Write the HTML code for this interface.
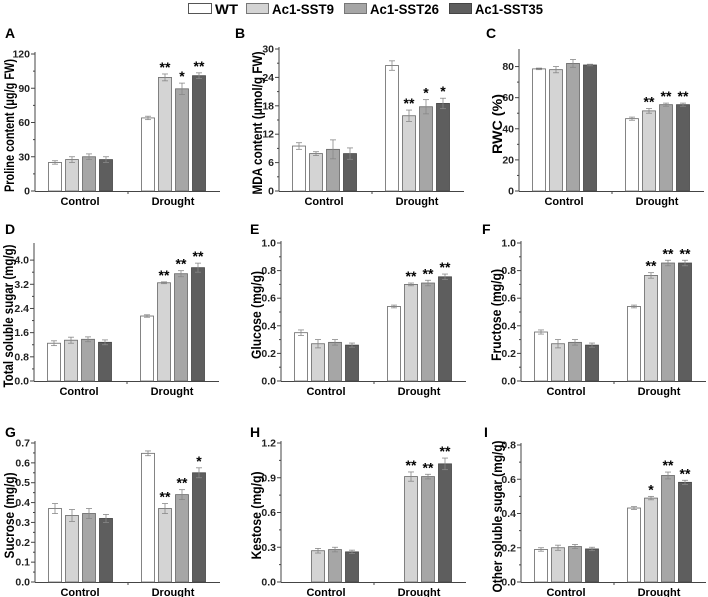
<!DOCTYPE html>
<html><head><meta charset="utf-8"><style>
body{margin:0;background:#fff}
svg{display:block;font-family:"Liberation Sans",Arial,sans-serif}
</style></head><body>
<svg id="fig" width="708" height="597" viewBox="0 0 708 597">
<g font-weight="bold" font-size="14">
<g><rect x="188.5" y="3.5" width="23" height="10" fill="#fff" stroke="#555"/><text x="215" y="14" textLength="23" lengthAdjust="spacingAndGlyphs">WT</text></g>
<g><rect x="246.5" y="3.5" width="22" height="10" fill="#d4d4d4" stroke="#777"/><text x="272" y="14" textLength="62" lengthAdjust="spacingAndGlyphs">Ac1-SST9</text></g>
<g><rect x="344.5" y="3.5" width="22" height="10" fill="#a6a6a6" stroke="#777"/><text x="370" y="14" textLength="69" lengthAdjust="spacingAndGlyphs">Ac1-SST26</text></g>
<g><rect x="449.5" y="3.5" width="22" height="10" fill="#5e5e5e" stroke="#444"/><text x="475" y="14" textLength="68" lengthAdjust="spacingAndGlyphs">Ac1-SST35</text></g>
</g>
</svg>
<script>
const categories = ["Control","Drought"];
const seriesNames = ["WT","Ac1-SST9","Ac1-SST26","Ac1-SST35"];
const seriesColors = ["#ffffff","#d4d4d4","#a6a6a6","#5e5e5e"];
const valuesA = [25,27.5,30,27.5, 64,99.5,89.5,101];
const errorsA = [1.5,2.5,2.5,2.5, 1.5,3,5,2.5];
const starsA = ["","","","", "","**","*","**"];
const ticksA = [0,30,60,90,120];
const valuesB = [9.5,7.9,8.8,7.9, 26.5,15.9,17.8,18.5];
const errorsB = [0.7,0.4,2,1.2, 1,1.2,1.5,1.1];
const starsB = ["","","","", "","**","*","*"];
const ticksB = [0,6,12,18,24,30];
const valuesC = [78.5,78,82,81, 46.5,51.5,55.5,55.5];
const errorsC = [0.5,2,2.5,0.5, 1,1.5,1,1];
const starsC = ["","","","", "","**","**","**"];
const ticksC = [0,20,40,60,80];
const valuesD = [1.25,1.35,1.38,1.28, 2.15,3.25,3.55,3.75];
const errorsD = [0.08,0.1,0.08,0.08, 0.04,0.03,0.1,0.15];
const starsD = ["","","","", "","**","**","**"];
const ticksD = [0,0.8,1.6,2.4,3.2,4.0];
const valuesE = [0.35,0.27,0.28,0.26, 0.54,0.70,0.71,0.755];
const errorsE = [0.02,0.03,0.02,0.015, 0.01,0.01,0.02,0.02];
const starsE = ["","","","", "","**","**","**"];
const ticksE = [0,0.2,0.4,0.6,0.8,1.0];
const valuesF = [0.355,0.27,0.28,0.26, 0.54,0.765,0.855,0.855];
const errorsF = [0.015,0.03,0.02,0.015, 0.01,0.02,0.02,0.02];
const starsF = ["","","","", "","**","**","**"];
const ticksF = [0,0.2,0.4,0.6,0.8,1.0];
const valuesG = [0.37,0.335,0.345,0.32, 0.648,0.37,0.44,0.55];
const errorsG = [0.025,0.03,0.025,0.02, 0.012,0.025,0.025,0.025];
const starsG = ["","","","", "","**","**","*"];
const ticksG = [0,0.1,0.2,0.3,0.4,0.5,0.6,0.7];
const valuesH = [0,0.27,0.28,0.26, 0,0.91,0.91,1.02];
const errorsH = [0,0.02,0.02,0.015, 0,0.04,0.02,0.05];
const starsH = ["","","","", "","**","**","**"];
const ticksH = [0,0.3,0.6,0.9,1.2];
const valuesI = [0.19,0.2,0.207,0.193, 0.432,0.49,0.622,0.582];
const errorsI = [0.01,0.015,0.012,0.01, 0.008,0.01,0.02,0.012];
const starsI = ["","","","", "","*","**","**"];
const ticksI = [0,0.2,0.4,0.6,0.8];

const svg = document.getElementById('fig');
const NS = "http://www.w3.org/2000/svg";
function mk(tag, attrs, parent){const e=document.createElementNS(NS,tag);for(const k in attrs)e.setAttribute(k,attrs[k]);parent.appendChild(e);return e;}
function fmt(v,dec){return v.toFixed(dec);}

const panels = [
 {id:"a",letter:"A",lx:5,ly:38,x0:35,y0:191,yt:54,max:120,title:"Proline content (μg/g FW)",tl:133,tx:9,vals:valuesA,errs:errorsA,stars:starsA,ticks:ticksA,dec:0},
 {id:"b",letter:"B",lx:235,ly:38,x0:279,y0:191,yt:49,max:30,title:"MDA content (μmol/g FW)",tl:143,tx:257,vals:valuesB,errs:errorsB,stars:starsB,ticks:ticksB,dec:0},
 {id:"c",letter:"C",lx:486,ly:38,x0:519,y0:191,yt:51,max:90,title:"RWC   (%)",tl:60,tx:497,vals:valuesC,errs:errorsC,stars:starsC,ticks:ticksC,dec:0},
 {id:"d",letter:"D",lx:5,ly:234,x0:34,y0:381,yt:245,max:4.5,title:"Total soluble sugar (mg/g)",tl:143,tx:8,vals:valuesD,errs:errorsD,stars:starsD,ticks:ticksD,dec:1},
 {id:"e",letter:"E",lx:250,ly:234,x0:281,y0:381,yt:243,max:1.0,title:"Glucose (mg/g)",tl:88,tx:256,vals:valuesE,errs:errorsE,stars:starsE,ticks:ticksE,dec:1},
 {id:"f",letter:"F",lx:482,ly:234,x0:521,y0:381,yt:243,max:1.0,title:"Fructose (mg/g)",tl:92,tx:496,vals:valuesF,errs:errorsF,stars:starsF,ticks:ticksF,dec:1},
 {id:"g",letter:"G",lx:5,ly:437,x0:35,y0:582,yt:443,max:0.7,title:"Sucrose (mg/g)",tl:86,tx:9,vals:valuesG,errs:errorsG,stars:starsG,ticks:ticksG,dec:1},
 {id:"h",letter:"H",lx:250,ly:437,x0:281,y0:582,yt:443,max:1.2,title:"Kestose (mg/g)",tl:88,tx:256,vals:valuesH,errs:errorsH,stars:starsH,ticks:ticksH,dec:1},
 {id:"i",letter:"I",lx:484,ly:437,x0:521,y0:582,yt:445,max:0.8,title:"Other soluble sugar (mg/g)",tl:152,tx:497,vals:valuesI,errs:errorsI,stars:starsI,ticks:ticksI,dec:1}
];
const AXLEN = 185;

panels.forEach(p=>{
  const g = mk('g',{},svg);
  
  
  const y = v => p.y0 - (v/p.max)*(p.y0-p.yt);
  const lt = mk('text',{x:p.lx,y:p.ly,'font-size':14,'font-weight':'bold'},g);
  lt.textContent = p.letter;
  
  
  const ya = mk('line',{x1:p.x0,y1:p.y0,x2:p.x0,y2:p.yt-2,stroke:'#444','stroke-width':1},g);
  
  
  const xa = mk('line',{x1:p.x0,y1:p.y0+0.5,x2:p.x0+AXLEN,y2:p.y0+0.5,stroke:'#444','stroke-width':1},g);
  
  
  mk('line',{x1:p.x0+93,y1:p.y0,x2:p.x0+93,y2:p.y0+3,stroke:'#444'},g);
  p.ticks.forEach((t,i)=>{
    const ty=y(t);
    mk('line',{x1:p.x0-4,y1:ty,x2:p.x0,y2:ty,stroke:'#444'},g);
    if(i<p.ticks.length-1){const my=y(t+(p.ticks[1]-p.ticks[0])/2);mk('line',{x1:p.x0-2,y1:my,x2:p.x0,y2:my,stroke:'#444'},g);}
    const tx = mk('text',{x:p.x0-5,y:ty+3.5,'font-size':10.5,'font-weight':'bold','text-anchor':'end',fill:'#222'},g);
    tx.textContent = fmt(t,p.dec);
    
    
  });
  const cy=(p.y0+p.yt)/2+3, cx=p.tx+5;
  const yt = mk('text',{x:cx,y:cy,'font-size':14,'font-weight':'bold','text-anchor':'middle',textLength:p.tl,lengthAdjust:'spacingAndGlyphs',transform:`rotate(-90 ${cx} ${cy})`},g);
  yt.textContent = p.title;
  
  
  categories.forEach((c,ci)=>{
    const ct = mk('text',{x:p.x0+13+ci*93+32,y:p.y0+14,'font-size':11,'font-weight':'bold','text-anchor':'middle'},g);
    ct.textContent = c;
    
    
  });
  p.vals.forEach((v,i)=>{
    const ci=Math.floor(i/4), si=i%4;
    if(v<=0) return;
    const bx = p.x0+13+ci*93+si*17;
    const top=y(v);
    const r = mk('rect',{x:bx+0.5,y:top,width:13,height:p.y0-top,fill:seriesColors[si],stroke:si==3?'#444':'#666','stroke-width':0.8},g);
    
    
    const e=p.errs[i], cxb=bx+7;
    if(e>0){
      mk('line',{x1:cxb,y1:y(v+e),x2:cxb,y2:y(v-e),stroke:'#888','stroke-width':0.8},g);
      mk('line',{x1:cxb-3,y1:y(v+e),x2:cxb+3,y2:y(v+e),stroke:'#888','stroke-width':0.8},g);
      mk('line',{x1:cxb-3,y1:y(v-e),x2:cxb+3,y2:y(v-e),stroke:'#888','stroke-width':0.8},g);
    }
    if(p.stars[i]){
      const st = mk('text',{x:cxb,y:y(v+e)-2,'font-size':14,'font-weight':'bold','text-anchor':'middle'},g);
      st.textContent = p.stars[i];
      
      
    }
  });
});
</script>
</body></html>
